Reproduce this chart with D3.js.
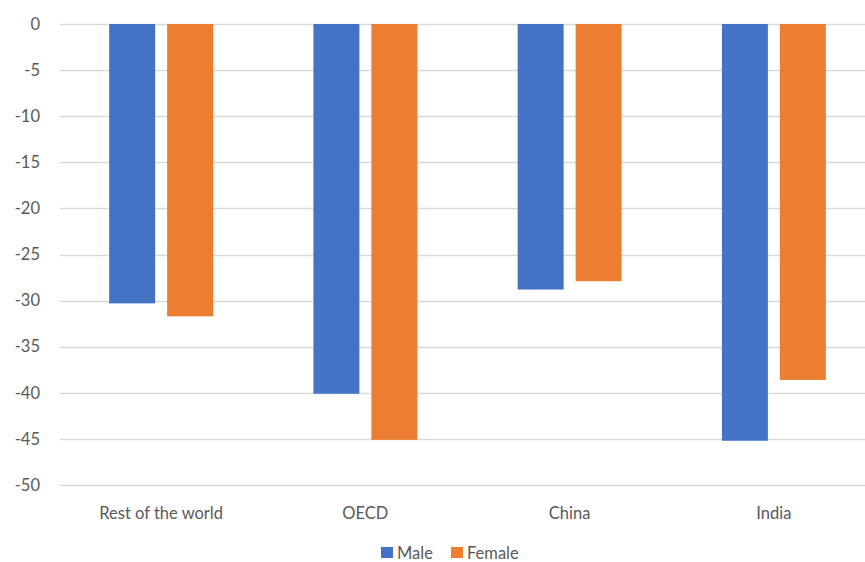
<!DOCTYPE html>
<html>
<head>
<meta charset="utf-8">
<script src="https://cdn.jsdelivr.net/npm/d3@7"></script>
<style>
  html, body { margin: 0; padding: 0; background: #ffffff; }
  svg { display: block; }
  text { font-family: "Lato", "Open Sans", sans-serif; fill: #595959; }
</style>
</head>
<body>
<svg id="chart" width="865" height="562"></svg>
<script>
// Regions and change values per series
const categories = ["Rest of the world", "OECD", "China", "India"];
const seriesNames = ["Male", "Female"];
const maleValues = [-30.3, -40.1, -28.8, -45.2];
const femaleValues = [-31.7, -45.1, -27.9, -38.6];
const yTicks = [0, -5, -10, -15, -20, -25, -30, -35, -40, -45, -50];
const colors = ["#4472C4", "#ED7D31"];

const svg = d3.select("#chart");
const W = 865, H = 562;
const plotLeft = 59, plotRight = 876, plotTop = 24, plotBottom = 485;

const x = d3.scaleBand()
  .domain(categories)
  .range([plotLeft, plotRight])
  .paddingInner(0).paddingOuter(0);

const y = d3.scaleLinear()
  .domain([0, -50])
  .range([plotTop, plotBottom]);

const xSub = d3.scaleBand()
  .domain(seriesNames)
  .range([0, x.bandwidth()])
  .paddingInner(0.207)
  .paddingOuter(0.865);

// Gridlines
svg.append("g")
  .selectAll("line")
  .data(yTicks)
  .join("line")
  .attr("x1", 60)
  .attr("x2", W)
  .attr("y1", d => Math.round(y(d)) + 0.5)
  .attr("y2", d => Math.round(y(d)) + 0.5)
  .attr("stroke", "#d9d9d9")
  .attr("stroke-width", 1.3);

// Y axis labels
const yAxis = d3.axisLeft(y).tickValues(yTicks).tickSize(0).tickPadding(0)
  .tickFormat(d => d3.format("d")(d).replace("−", "-"));
const yg = svg.append("g")
  .attr("transform", `translate(40,0)`)
  .call(yAxis);
yg.select(".domain").remove();
yg.selectAll("text")
  .attr("font-size", 16.5)
  .attr("fill", "#595959")
  .style("font-family", '"Lato", "Open Sans", sans-serif');

// Bars
const rows = categories.map((c, i) => ({ cat: c, values: [maleValues[i], femaleValues[i]] }));
const groups = svg.append("g")
  .selectAll("g")
  .data(rows)
  .join("g")
  .attr("transform", d => `translate(${x(d.cat)},0)`);

groups.selectAll("rect")
  .data(d => d.values.map((v, j) => ({ key: seriesNames[j], v, j })))
  .join("rect")
  .attr("x", d => xSub(d.key))
  .attr("width", xSub.bandwidth())
  .attr("y", y(0))
  .attr("height", d => y(d.v) - y(0))
  .attr("fill", d => colors[d.j]);

// X axis labels, centred under each pair of bars
const xg = svg.append("g");
xg.selectAll("text")
  .data(categories)
  .join("text")
  .attr("x", d => x(d) + x.bandwidth() / 2)
  .attr("y", 513)
  .attr("dy", "0.35em")
  .attr("text-anchor", "middle")
  .attr("font-size", 16.5)
  .text(d => d);

// Legend
const legend = svg.append("g").attr("transform", "translate(381,546)");
const legendItems = legend.selectAll("g")
  .data(seriesNames)
  .join("g")
  .attr("transform", (d, i) => `translate(${i * 70},0)`);
legendItems.append("rect")
  .attr("width", 12).attr("height", 11).attr("y", 1)
  .attr("fill", (d, i) => colors[i]);
legendItems.append("text")
  .attr("x", 16).attr("y", 7)
  .attr("dy", "0.35em")
  .attr("font-size", 16.5)
  .text(d => d);
</script>
</body>
</html>
